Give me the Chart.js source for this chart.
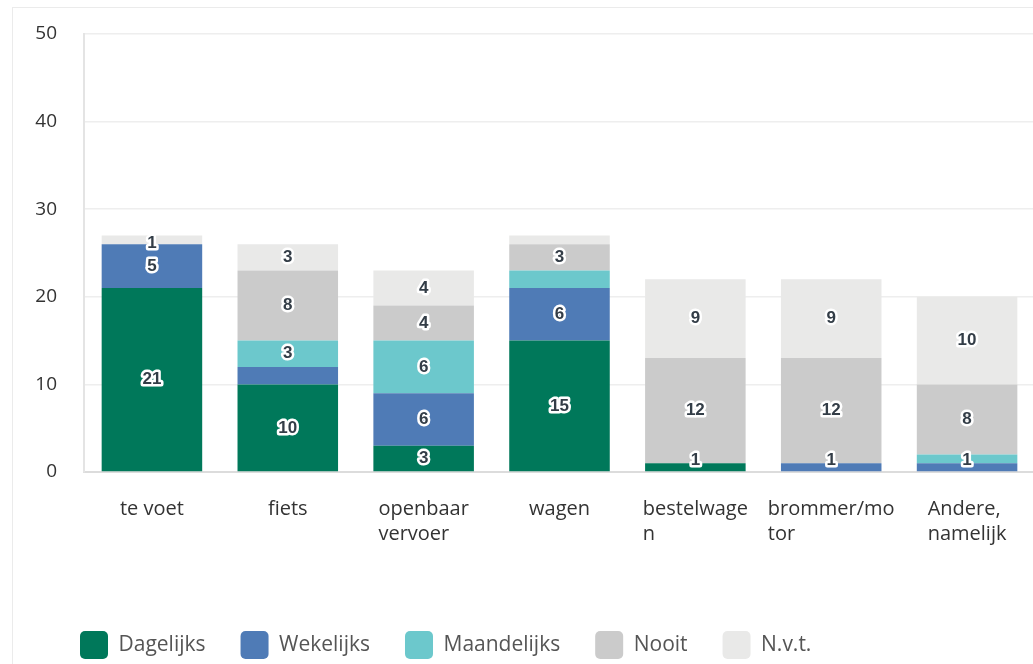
<!DOCTYPE html>
<html>
<head>
<meta charset="utf-8">
<script src="https://cdn.jsdelivr.net/npm/chart.js@4.4.1/dist/chart.umd.min.js"></script>
<style>
	html, body { margin: 0; padding: 0; background: #fff; overflow: hidden; width: 1033px; height: 664px; }
	#card { position: absolute; left: 12px; top: 7px; width: 1100px; height: 700px; border-left: 1px solid #ebebeb; border-top: 1px solid #ebebeb; }
	#wrap { position: absolute; left: 13px; top: 8px; width: 1022px; height: 661px; }
</style>
</head>
<body>
<div id="card"></div>
<div id="wrap"><canvas id="modeChart"></canvas></div>
<script>
const categories = [['te voet'], ['fiets'], ['openbaar', 'vervoer'], ['wagen'], ['bestelwage', 'n'], ['brommer/mo', 'tor'], ['Andere,', 'namelijk']];
const seriesNames = ['Dagelijks', 'Wekelijks', 'Maandelijks', 'Nooit', 'N.v.t.'];
const dagelijks   = [21, 10, 3, 15, 1, 0, 0];
const wekelijks   = [5, 2, 6, 6, 0, 1, 1];
const maandelijks = [0, 3, 6, 2, 0, 0, 1];
const nooit       = [0, 8, 4, 3, 12, 12, 8];
const nvt         = [1, 3, 4, 1, 9, 9, 10];
const yTicks = [0, 10, 20, 30, 40, 50];

const colors = ['#00785a', '#4f7bb6', '#6cc8cc', '#cbcbcb', '#e9e9e8'];
const FONT = '"Open Sans", "Noto Sans", sans-serif';

/* ---------- value labels inside the segments (skip the ones that would collide) ---------- */
const segmentLabels = {
	id: 'segmentLabels',
	afterDatasetsDraw(chart) {
		const ctx = chart.ctx;
		const metas = chart.data.datasets.map((d, i) => chart.getDatasetMeta(i));
		ctx.save();
		ctx.font = 'bold 17px "Liberation Sans", Arial, sans-serif';
		ctx.textAlign = 'center';
		ctx.textBaseline = 'middle';
		ctx.lineJoin = 'round';
		categories.forEach((c, j) => {
			const items = [];
			let top = Infinity, bottom = -Infinity;
			chart.data.datasets.forEach((ds, i) => {
				const v = ds.data[j];
				if (!v) return;
				const el = metas[i].data[j];
				top = Math.min(top, el.y); bottom = Math.max(bottom, el.base);
				items.push({ v, i, x: el.x, y: (el.y + el.base) / 2 });
			});
			items.sort((a, b) => b.v - a.v || a.i - b.i);
			const shown = [];
			items.forEach(it => {
				if (shown.some(s => Math.abs(s.y - it.y) < 24)) return;
				shown.push(it);
			});
			shown.forEach(it => {
				const y = Math.min(Math.max(it.y, top + 8), bottom - 11);
				ctx.lineWidth = 5;
				ctx.strokeStyle = '#fff';
				ctx.strokeText(String(it.v), it.x, y);
				ctx.fillStyle = '#333d47';
				ctx.fillText(String(it.v), it.x, y);
			});
		});
		ctx.restore();
	}
};

/* ---------- x labels: block centred under the bar, lines left aligned ---------- */
const xLabels = {
	id: 'xLabels',
	afterDraw(chart) {
		const ctx = chart.ctx;
		const xs = chart.scales.x;
		ctx.save();
		ctx.font = '20px ' + FONT;
		ctx.fillStyle = '#333';
		ctx.textAlign = 'left';
		ctx.textBaseline = 'middle';
		categories.forEach((lines, j) => {
			const w = Math.max(...lines.map(l => ctx.measureText(l).width));
			const x0 = xs.getPixelForValue(j) - w / 2;
			lines.forEach((l, k) => ctx.fillText(l, x0, chart.chartArea.bottom + 37 + k * 25));
		});
		ctx.restore();
	}
};

// legend starts under the plot's left edge, not at the canvas edge
const shiftLegend = {
	id: 'shiftLegend',
	afterLayout(chart) {
		const lg = chart.legend;
		if (lg) { lg.left += 32; lg.right += 32; }
	}
};

const series = [dagelijks, wekelijks, maandelijks, nooit, nvt];

new Chart(document.getElementById('modeChart').getContext('2d'), {
	type: 'bar',
	data: {
		labels: categories.map(c => c.join(' ')),
		datasets: series.map((d, i) => ({
			label: seriesNames[i],
			data: d,
			backgroundColor: colors[i],
			borderWidth: 0,
			barPercentage: 0.74,
			categoryPercentage: 1
		}))
	},
	options: {
		responsive: true,
		maintainAspectRatio: false,
		animation: false,
		layout: { padding: { left: 0, top: 26, right: 0, bottom: 0 } },
		plugins: {
			tooltip: { enabled: false },
			legend: {
				position: 'bottom',
				align: 'start',
				labels: {
					boxWidth: 28,
					boxHeight: 28,
					useBorderRadius: true,
					borderRadius: 5,
					padding: 35,
					color: '#555',
					font: { family: FONT, size: 21 }
				}
			}
		},
		scales: {
			x: {
				stacked: true,
				grid: { display: false, drawTicks: false },
				border: { color: '#dcdcdc', width: 2 },
				ticks: { display: false },
				afterFit: s => { s.height = 124; }
			},
			y: {
				stacked: true,
				min: 0,
				max: 50,
				afterBuildTicks: s => { s.ticks = yTicks.map(v => ({ value: v })); },
				grid: { color: '#eeeeee', lineWidth: 1.5, drawTicks: false },
				border: { color: '#e4e4e4', width: 2 },
				ticks: { padding: 27, color: '#333', font: { family: FONT, size: 19 } },
				afterFit: s => { s.width = 71; s.paddingTop = 0; s.paddingBottom = 0; }
			}
		}
	},
	plugins: [segmentLabels, xLabels, shiftLegend]
});
</script>
</body>
</html>
